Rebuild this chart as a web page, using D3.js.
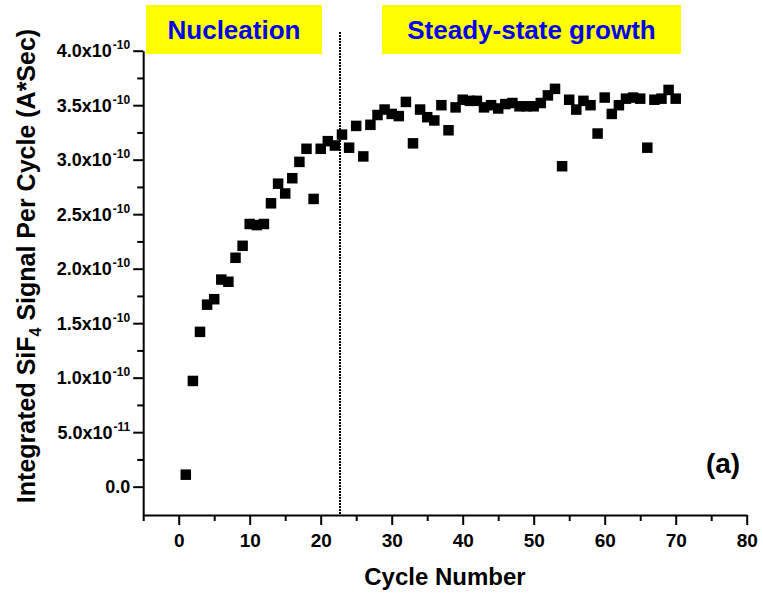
<!DOCTYPE html>
<html>
<head>
<meta charset="utf-8">
<script src="https://cdn.jsdelivr.net/npm/d3@7"></script>
<style>
  body { margin: 0; background: #fff; }
  svg { font-family: "Liberation Sans", Arial, sans-serif; font-weight: bold; }
</style>
</head>
<body>
<svg id="chart" width="763" height="597"></svg>
<script>
// cycle numbers and integrated SiF4 signal (units of 1e-10 A*Sec)
var cycles = d3.range(1, 71)
var signalE10 = [
  0.11, 0.97, 1.42, 1.67, 1.72, 1.90, 1.88, 2.10, 2.21, 2.41,
  2.40, 2.41, 2.60, 2.78, 2.69, 2.83, 2.98, 3.10, 2.64, 3.10,
  3.17, 3.13, 3.23, 3.11, 3.31, 3.03, 3.32, 3.41, 3.46, 3.42,
  3.40, 3.53, 3.15, 3.46, 3.39, 3.36, 3.50, 3.27, 3.48, 3.55,
  3.54, 3.54, 3.48, 3.50, 3.47, 3.51, 3.52, 3.49, 3.49, 3.49,
  3.52, 3.59, 3.65, 2.94, 3.55, 3.46, 3.54, 3.50, 3.24, 3.57,
  3.42, 3.50, 3.56, 3.57, 3.56, 3.11, 3.55, 3.56, 3.64, 3.56
]

// tick values / labels
var xTicks = [0, 10, 20, 30, 40, 50, 60, 70, 80]
var xMinorTicks = [-5, 5, 15, 25, 35, 45, 55, 65, 75]
var yTicks = [0, 0.5, 1.0, 1.5, 2.0, 2.5, 3.0, 3.5, 4.0]
var yMinorTicks = [0.25, 0.75, 1.25, 1.75, 2.25, 2.75, 3.25, 3.75]
var yTickMantissa = ["0.0", "5.0x10", "1.0x10", "1.5x10", "2.0x10", "2.5x10", "3.0x10", "3.5x10", "4.0x10"]
var yTickExp = ["", "-11", "-10", "-10", "-10", "-10", "-10", "-10", "-10"]

var boundaryCycle = 22.7
var regionLabels = ["Nucleation", "Steady-state growth"]

var dimensions = {
  width: 763,
  height: 597,
  left: 143.2,
  right: 746.7,
  top: 50.7,
  bottom: 515
}

var svg = d3.select("#chart")

var xScale = d3.scaleLinear()
  .domain([-5, 80])
  .range([dimensions.left, dimensions.right])

var yScale = d3.scaleLinear()
  .domain([-0.26, 4.0])
  .range([dimensions.bottom, dimensions.top])

// ---- x axis ----
var xAxis = svg.append("g")
  .attr("transform", "translate(0," + dimensions.bottom + ")")
  .call(d3.axisBottom(xScale).tickValues(xTicks).tickSize(10).tickSizeOuter(0).tickPadding(9))
xAxis.select(".domain").attr("stroke-width", 2)
xAxis.selectAll(".tick line").attr("stroke-width", 2)
xAxis.selectAll("text")
  .style("font-size", "19px")
  .style("font-weight", "bold")
  .attr("fill", "black")

var xMinor = svg.append("g")
  .attr("transform", "translate(0," + dimensions.bottom + ")")
  .call(d3.axisBottom(xScale).tickValues(xMinorTicks).tickSize(6).tickSizeOuter(0).tickFormat(""))
xMinor.select(".domain").remove()
xMinor.selectAll(".tick line").attr("stroke-width", 2)

// ---- y axis ----
var yAxis = svg.append("g")
  .attr("transform", "translate(" + dimensions.left + ",0)")
  .call(d3.axisLeft(yScale).tickValues(yTicks).tickSize(10).tickSizeOuter(0).tickFormat(""))
yAxis.select(".domain").attr("stroke-width", 2)
yAxis.selectAll(".tick line").attr("stroke-width", 2)

var yMinor = svg.append("g")
  .attr("transform", "translate(" + dimensions.left + ",0)")
  .call(d3.axisLeft(yScale).tickValues(yMinorTicks).tickSize(6).tickSizeOuter(0).tickFormat(""))
yMinor.select(".domain").remove()
yMinor.selectAll(".tick line").attr("stroke-width", 2)

// y tick labels with superscript exponent
yTicks.forEach(function(t, i) {
  var lbl = svg.append("text")
    .attr("x", dimensions.left - 13)
    .attr("y", yScale(t) + 6.5)
    .attr("text-anchor", "end")
    .style("font-size", "18px")
  lbl.append("tspan").text(yTickMantissa[i])
  if (yTickExp[i] != "") {
    lbl.append("tspan")
      .attr("dy", -8)
      .attr("dx", 1)
      .style("font-size", "12px")
      .text(yTickExp[i])
  }
})

// ---- axis titles ----
svg.append("text")
  .attr("x", (dimensions.left + dimensions.right) / 2)
  .attr("y", 585)
  .attr("text-anchor", "middle")
  .style("font-size", "24px")
  .text("Cycle Number")

var yTitle = svg.append("text")
  .attr("transform", "translate(35,266) rotate(-90)")
  .attr("text-anchor", "middle")
  .style("font-size", "25px")
yTitle.append("tspan").text("Integrated SiF")
yTitle.append("tspan").attr("dy", 6).style("font-size", "16px").text("4")
yTitle.append("tspan").attr("dy", -6).text(" Signal Per Cycle (A*Sec)")

// ---- region labels ----
var boxes = [[146, 322], [382, 681]]
regionLabels.forEach(function(name, i) {
  svg.append("rect")
    .attr("x", boxes[i][0])
    .attr("y", 5)
    .attr("width", boxes[i][1] - boxes[i][0])
    .attr("height", 49)
    .attr("fill", "#ffff00")
  svg.append("text")
    .attr("x", (boxes[i][0] + boxes[i][1]) / 2)
    .attr("y", 39)
    .attr("text-anchor", "middle")
    .attr("fill", "#0000ee")
    .style("font-size", "26px")
    .text(name)
})

// dotted boundary line (snapped to whole pixel so it stays crisp)
var bx = Math.round(xScale(boundaryCycle))
svg.append("line")
  .attr("x1", bx)
  .attr("x2", bx)
  .attr("y1", 32)
  .attr("y2", dimensions.bottom)
  .attr("stroke", "black")
  .attr("stroke-width", 2)
  .attr("stroke-dasharray", "2,1")

// ---- data points ----
var side = 10.5
svg.append("g")
  .selectAll("rect")
  .data(cycles)
  .join("rect")
  .attr("x", (d, i) => xScale(d) - side / 2)
  .attr("y", (d, i) => yScale(signalE10[i]) - side / 2)
  .attr("width", side)
  .attr("height", side)
  .attr("fill", "black")

// panel tag
svg.append("text")
  .attr("x", 723)
  .attr("y", 473)
  .attr("text-anchor", "middle")
  .style("font-size", "28px")
  .text("(a)")
</script>
</body>
</html>
